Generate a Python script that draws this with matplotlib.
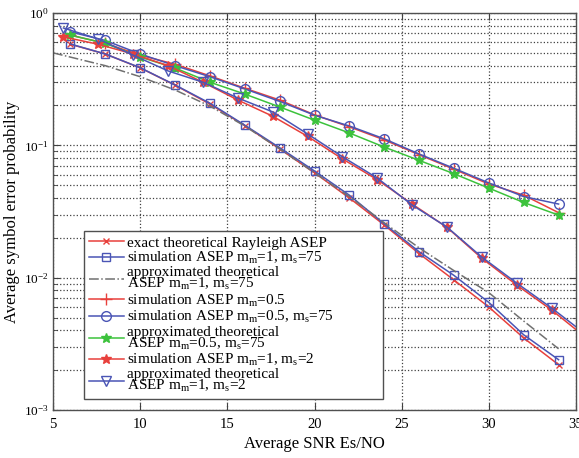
import numpy as np
import matplotlib
matplotlib.use('Agg')
import matplotlib.pyplot as plt
from matplotlib.ticker import LogLocator, NullFormatter, FixedLocator

plt.rcParams['font.family'] = 'Liberation Serif'
plt.rcParams['mathtext.fontset'] = 'custom'
plt.rcParams['mathtext.rm'] = 'Liberation Serif'
plt.rcParams['mathtext.it'] = 'Liberation Serif:italic'

# SNR grids (dB)
snr_even = [6, 8, 10, 12, 14, 16, 18, 20, 22, 24, 26, 28, 30, 32, 34]
snr_shift = [5.6, 7.6, 9.6, 11.6, 13.6, 15.6, 17.6, 19.6, 21.6, 23.6,
             25.6, 27.6, 29.6, 31.6, 33.6, 35.6]
snr_approx = [5, 8, 10, 12, 14, 16, 18, 20, 22, 24, 26, 28, 30, 32, 34]

# m_m = 1, m_s = 75 group
exact_rayleigh = [0.58, 0.49, 0.385, 0.285, 0.205, 0.141, 0.094, 0.062,
                  0.040, 0.025, 0.0152, 0.0096, 0.0060, 0.0035, 0.0022]
sim_m1_s75 = [0.583, 0.49, 0.386, 0.286, 0.208, 0.142, 0.096, 0.064,
              0.042, 0.0255, 0.0157, 0.0104, 0.0065, 0.0037, 0.0024]
approx_m1_s75 = [0.50, 0.40, 0.33, 0.262, 0.198, 0.14, 0.094, 0.062,
                 0.041, 0.026, 0.0168, 0.0113, 0.0077, 0.0047, 0.0029]

# m_m = 0.5 group
sim_m05 = [0.68, 0.59, 0.48, 0.41, 0.335, 0.27, 0.22, 0.17, 0.138, 0.11,
           0.085, 0.066, 0.051, 0.042, 0.031]
sim_m05_s75 = [0.72, 0.62, 0.49, 0.40, 0.33, 0.267, 0.215, 0.169, 0.14,
               0.112, 0.086, 0.067, 0.052, 0.041, 0.036]
approx_m05_s75 = [0.68, 0.59, 0.465, 0.384, 0.30, 0.244, 0.195, 0.155,
                  0.124, 0.097, 0.077, 0.061, 0.0475, 0.037, 0.0297]

# m_m = 1, m_s = 2 group
sim_m1_s2 = [0.66, 0.58, 0.49, 0.40, 0.30, 0.22, 0.166, 0.117, 0.079,
             0.055, 0.036, 0.024, 0.014, 0.0088, 0.0057, 0.0035]
approx_m1_s2 = [0.77, 0.636, 0.48, 0.365, 0.30, 0.228, 0.179, 0.122,
                0.082, 0.0566, 0.0354, 0.0241, 0.0143, 0.0091, 0.0059,
                0.0037]

red = '#e8403c'
blue = '#4a55b5'
green = '#3cc23c'
grey = '#707070'

W, H = 579, 458
fig = plt.figure(figsize=(W / 100, H / 100), dpi=100)
ax = fig.add_axes([53 / W, 1 - 410 / H, 523 / W, 397 / H])

lw = 1.1
ax.semilogy(snr_even, exact_rayleigh, '-x', color=red, lw=lw, ms=5,
            label='exact theoretical Rayleigh ASEP')
ax.semilogy(snr_even, sim_m1_s75, '-s', color=blue, lw=lw, ms=6, mfc='none',
            label='simulation ASEP m$_\\mathrm{m}$=1, m$_\\mathrm{s}$=75')
ax.semilogy(snr_approx, approx_m1_s75, '-.', color=grey, lw=lw,
            label='approximated theoretical\nASEP m$_\\mathrm{m}$=1, m$_\\mathrm{s}$=75')
ax.semilogy(snr_even, sim_m05, '-+', color=red, lw=lw, ms=8,
            label='simulation ASEP m$_\\mathrm{m}$=0.5')
ax.semilogy(snr_even, sim_m05_s75, '-o', color=blue, lw=lw, ms=7, mfc='none',
            label='simulation ASEP m$_\\mathrm{m}$=0.5, m$_\\mathrm{s}$=75')
ax.semilogy(snr_even, approx_m05_s75, '-*', color=green, lw=lw, ms=7,
            label='approximated theoretical\nASEP m$_\\mathrm{m}$=0.5, m$_\\mathrm{s}$=75')
ax.semilogy(snr_shift, sim_m1_s2, '-*', color=red, lw=lw, ms=7,
            label='simulation ASEP m$_\\mathrm{m}$=1, m$_\\mathrm{s}$=2')
ax.semilogy(snr_shift, approx_m1_s2, '-v', color=blue, lw=lw, ms=7, mfc='none',
            label='approximated theoretical\nASEP m$_\\mathrm{m}$=1, m$_\\mathrm{s}$=2')

ax.set_xlim(5, 35)
ax.set_ylim(1e-3, 1)
ax.xaxis.set_major_locator(FixedLocator([5, 10, 15, 20, 25, 30, 35]))
ax.yaxis.set_major_locator(LogLocator(base=10, numticks=10))
ax.yaxis.set_minor_locator(LogLocator(base=10, subs=np.arange(2, 10), numticks=10))
ax.yaxis.set_minor_formatter(NullFormatter())

ax.grid(True, which='major', linestyle=':', color='#404040', lw=0.9)
ax.grid(True, which='minor', axis='y', linestyle=':', color='#404040', lw=0.9)
ax.tick_params(which='both', direction='in', top=True, right=True,
               labelsize=10.5, color='#404040')
ax.tick_params(axis='y', labelsize=9.5, pad=3)
ax.tick_params(axis='x', pad=6)
ax.tick_params(which='major', length=5)
ax.tick_params(which='minor', length=3)
for sp in ax.spines.values():
    sp.set_color('#505050')
    sp.set_linewidth(1.0)

ax.set_xlabel('Average SNR Es/NO', fontsize=12, labelpad=3)
ax.set_ylabel('Average symbol error probability', fontsize=12)
ax.yaxis.set_label_coords(-33 / 523, 0.5)

# legend box spans a fixed width, wider than its text
leg = ax.legend(loc='lower left',
                bbox_to_anchor=(31 / 523, 11 / 397, 299 / 523, 0.3),
                mode='expand', borderaxespad=0, fontsize=11,
                labelspacing=0.02, handlelength=2.3, handletextpad=0.2,
                borderpad=0.3, fancybox=False, framealpha=1,
                edgecolor='#505050')
leg.get_frame().set_linewidth(1.0)
for t in leg.get_texts():
    t.set_linespacing(0.75)

fig.savefig('out.png', dpi=100)
